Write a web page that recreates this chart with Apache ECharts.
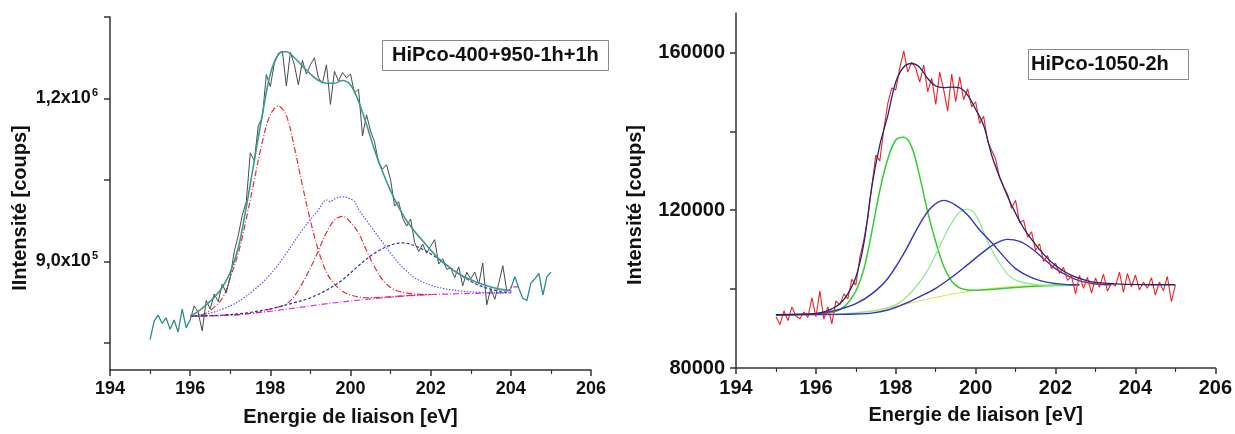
<!DOCTYPE html>
<html>
<head>
<meta charset="utf-8">
<script src="https://cdn.jsdelivr.net/npm/echarts@6/dist/echarts.min.js"></script>
<style>
html,body{margin:0;padding:0;background:#fff;}
#chart{width:1235px;height:434px;}
</style>
</head>
<body>
<div id="chart"></div>
<script>
// ---------- DATA ----------
const xTicks = [194, 196, 198, 200, 202, 204, 206];
const energyRaw = [195.0,195.1,195.2,195.3,195.4,195.5,195.6,195.7,195.8,195.9,
196.0,196.1,196.2,196.3,196.4,196.5,196.6,196.7,196.8,196.9,
197.0,197.1,197.2,197.3,197.4,197.5,197.6,197.7,197.8,197.9,
198.0,198.1,198.2,198.3,198.4,198.5,198.6,198.7,198.8,198.9,
199.0,199.1,199.2,199.3,199.4,199.5,199.6,199.7,199.8,199.9,
200.0,200.1,200.2,200.3,200.4,200.5,200.6,200.7,200.8,200.9,
201.0,201.1,201.2,201.3,201.4,201.5,201.6,201.7,201.8,201.9,
202.0,202.1,202.2,202.3,202.4,202.5,202.6,202.7,202.8,202.9,
203.0,203.1,203.2,203.3,203.4,203.5,203.6,203.7,203.8,203.9,
204.0,204.1,204.2,204.3,204.4,204.5,204.6,204.7,204.8,204.9,
205.0];

// Left panel: HiPco-400+950-1h+1h
const leftRaw = [756000,790000,801000,786000,796000,775000,792000,770000,812000,778000,
792000,818000,806000,772000,828000,812000,840000,826000,858000,842000,
872000,918000,948000,985000,1010000,1100000,1085000,1150000,1165000,1244000,
1222000,1265000,1283000,1287000,1223000,1285000,1262000,1225000,1270000,1245000,
1262000,1275000,1238000,1228000,1262000,1189000,1250000,1232000,1248000,1238000,
1245000,1210000,1217000,1131000,1170000,1140000,1120000,1082000,1070000,1078000,
1050000,1002000,1010000,980000,965000,978000,935000,918000,932000,915000,
928000,940000,895000,905000,885000,888000,870000,890000,855000,880000,
868000,880000,858000,897000,820000,850000,830000,860000,892000,845000,
850000,872000,850000,832000,828000,860000,868000,878000,838000,872000,
880000];

const leftFit = [[196.0,799000],[196.2,808000],[196.4,820000],[196.6,834000],[196.8,852000],[197.0,880000],
[197.2,925000],[197.4,1000000],[197.6,1085000],[197.8,1170000],[198.0,1245000],[198.2,1281000],
[198.4,1286000],[198.6,1275000],[198.8,1260000],[199.0,1245000],[199.2,1233000],[199.4,1228000],
[199.6,1228000],[199.8,1233000],[200.0,1225000],[200.2,1195000],[200.4,1152000],[200.6,1105000],
[200.8,1065000],[201.0,1030000],[201.2,1000000],[201.4,975000],[201.6,955000],[201.8,938000],
[202.0,921000],[202.2,905000],[202.4,893000],[202.6,882000],[202.8,873000],[203.0,866000],
[203.2,860000],[203.4,855000],[203.6,851000],[203.8,848000],[204.0,846000]];

const leftPeakA = [[196.0,799000],[196.4,805000],[196.8,832000],[197.0,870000],[197.2,915000],[197.4,978000],
[197.6,1050000],[197.8,1120000],[198.0,1170000],[198.2,1186000],[198.4,1168000],[198.6,1110000],
[198.8,1040000],[199.0,975000],[199.2,920000],[199.4,880000],[199.6,858000],[199.8,845000],
[200.0,838000],[200.4,833000],[200.8,834000],[201.2,836000],[201.6,838000],[202.0,839000]];

const leftPeakB = [[196.0,799000],[196.4,803000],[196.8,812000],[197.2,826000],[197.6,848000],[198.0,876000],
[198.4,915000],[198.8,958000],[199.2,995000],[199.4,1013000],[199.5,1010000],[199.6,1015000],
[199.8,1019000],[200.0,1015000],[200.1,1010000],[200.2,996000],[200.4,975000],[200.6,955000],
[200.8,935000],[201.0,915000],[201.2,897000],[201.4,882000],[201.6,870000],[201.8,862000],
[202.0,856000],[202.4,849000],[202.8,845000],[203.2,843000],[203.6,842000],[203.9,842000]];

const leftPeakC = [[196.0,799000],[197.0,801000],[197.6,805000],[198.0,812000],[198.4,822000],[198.6,836000],
[198.8,860000],[199.0,888000],[199.2,920000],[199.4,953000],[199.6,976000],[199.8,983000],
[200.0,972000],[200.2,952000],[200.4,920000],[200.6,890000],[200.8,866000],[201.0,852000],
[201.2,845000],[201.6,840000],[202.0,839000]];

const leftPeakD = [[196.0,799000],[196.8,801000],[197.4,805000],[197.8,810000],[198.2,816000],[198.6,824000],
[199.0,833000],[199.4,847000],[199.8,866000],[200.2,892000],[200.6,915000],[201.0,930000],
[201.3,934000],[201.6,929000],[202.0,914000],[202.4,893000],[202.8,872000],[203.2,856000],
[203.6,847000],[203.9,843000]];

const leftBase = [[196.0,799000],[196.5,800000],[197.0,801000],[197.5,804000],[198.0,808000],[198.5,813000],
[199.0,818000],[199.5,823000],[200.0,827000],[200.5,831000],[201.0,834000],[201.5,837000],
[202.0,839000],[202.5,840000],[203.0,841000],[203.5,842000],[204.0,842000],[204.0,853000],[204.25,853000]];

const leftYTicks = [750000, 900000, 1050000, 1200000, 1350000];
const leftYLabelValues = [900000, 1200000];
const leftYLabelMant = ['9,0x10', '1,2x10'];
const leftYLabelExp = ['5', '6'];

// Right panel: HiPco-1050-2h
const rightRaw = [93000,91000,94500,92000,95500,93200,92500,94200,92800,97800,
93000,99500,92400,95500,91200,97000,96000,98800,97500,102500,
101000,108000,112500,118000,126000,134000,132500,140500,147000,151000,
150500,156000,160400,155000,157500,156000,152500,156800,150000,153500,
146800,155000,150500,145100,154500,147500,153800,148000,150800,146200,
147500,142000,143800,137500,135200,133000,128200,126000,124000,120500,
122500,116800,117500,113200,114500,109800,111500,107000,108500,105200,
106600,104000,105500,102200,103300,98800,103500,100200,103000,99000,
102800,100500,103800,99500,101500,100800,104300,99200,104000,100600,
103600,99800,101800,100200,102900,98500,101800,99600,103200,96800,
101000];

const rightFit = [[195.0,93500],[195.6,93600],[196.0,93800],[196.2,94200],[196.4,95000],[196.6,96300],
[196.8,98800],[197.0,103000],[197.2,111500],[197.4,126000],[197.6,136500],[197.8,144000],
[198.0,152500],[198.2,156300],[198.4,157200],[198.6,156200],[198.8,153400],[199.0,151500],
[199.2,151100],[199.4,151200],[199.6,151000],[199.8,149200],[200.0,145600],[200.2,141500],
[200.4,134000],[200.6,128400],[200.8,123500],[201.0,119200],[201.2,115500],[201.4,112600],
[201.6,110000],[201.8,107800],[202.0,106000],[202.2,104600],[202.4,103500],[202.6,102700],
[202.8,102100],[203.0,101700],[203.4,101400],[203.8,101200],[204.4,101100],[205.0,101100]];

const rightPeakA = [[195.0,93500],[196.0,93600],[196.4,94100],[196.6,94800],[196.8,96500],[197.0,99500],
[197.2,105000],[197.4,114500],[197.6,125000],[197.8,133000],[198.0,137800],[198.2,138500],
[198.4,136000],[198.6,128500],[198.8,119500],[199.0,112000],[199.2,105800],[199.4,102000],
[199.6,100300],[199.8,99800],[200.0,99700],[200.5,100000],[201.0,100400],[201.5,100700],
[202.0,100900],[202.5,101000]];

const rightPeakB = [[195.0,93500],[195.8,93700],[196.2,94000],[196.6,94900],[197.0,96300],[197.4,98800],
[197.8,102700],[198.2,109000],[198.6,116500],[198.9,120800],[199.2,122500],[199.5,121300],
[199.8,118800],[200.1,115000],[200.4,111800],[200.7,108300],[201.0,105200],[201.4,102900],
[201.8,101700],[202.2,101200],[202.6,101100]];

const rightPeakC = [[196.5,93700],[197.0,94000],[197.5,94600],[198.0,96000],[198.3,98300],[198.6,101800],[198.8,104800],[199.0,108800],
[199.2,113000],[199.4,116800],[199.6,119500],[199.8,120300],[200.0,118800],[200.2,114500],
[200.4,110000],[200.6,106500],[200.8,103800],[201.0,102300],[201.4,101300],[201.8,101000],
[202.4,101100]];

const rightPeakD = [[195.0,93500],[196.0,93550],[196.6,93600],[197.0,93700],[197.4,93900],[197.8,94700],[198.2,96200],[198.6,98100],[199.0,100200],
[199.4,103000],[199.8,106200],[200.2,109500],[200.5,111600],[200.8,112600],[201.1,112100],
[201.4,110300],[201.7,107700],[202.0,105200],[202.3,103400],[202.6,102100],[203.0,101300],
[203.4,101100]];

const rightBase = [[195.0,93500],[196.5,93600],[197.0,93800],[197.5,94500],[198.0,95600],[198.5,96800],
[199.0,97900],[199.5,98900],[200.0,99700],[200.5,100300],[201.0,100700],[201.5,100900],
[202.0,101000],[203.0,101100]];

const rightYTicks = [80000, 100000, 120000, 140000, 160000];
const rightYLabelValues = [80000, 120000, 160000];

const xTitle = 'Energie de liaison [eV]';
const leftYTitle = 'IIntensité [coups]';
const rightYTitle = 'Intensité [coups]';
const leftBoxText = 'HiPco-400+950-1h+1h';
const rightBoxText = 'HiPco-1050-2h';

// ---------- CHART ----------
const FONT = '"Liberation Sans", Arial, Helvetica, sans-serif';
const pairs = (xs, ys, a, b) => xs.slice(a, b).map((x, i) => [x, ys[a + i]]);

function xAxisCfg(gridIndex, labelSize) {
  return {
    type: 'value', gridIndex, min: 194, max: 206, interval: 2,
    name: xTitle, nameLocation: 'middle', nameGap: 37,
    nameTextStyle: {fontFamily: FONT, fontWeight: 'bold', fontSize: 20, color: '#111'},
    axisLine: {show: true, onZero: false, lineStyle: {color: '#333', width: 1.5}},
    axisTick: {show: true, length: 6, lineStyle: {color: '#333', width: 1.5}},
    minorTick: {show: true, splitNumber: 2, length: 4, lineStyle: {color: '#333', width: 1.2}},
    axisLabel: {fontFamily: FONT, fontWeight: 'bold', fontSize: labelSize, color: '#111', margin: 10,
      formatter: v => xTicks.indexOf(v) >= 0 ? String(v) : ''},
    splitLine: {show: false}
  };
}

function line(name, data, xi, color, width, type, smooth) {
  return {
    name, type: 'line', xAxisIndex: xi, yAxisIndex: xi, data,
    showSymbol: false, symbol: 'none', smooth: smooth ? 0.35 : false,
    lineStyle: {color, width, type: type || 'solid'},
    emphasis: {disabled: true}, z: 2
  };
}

const option = {
  animation: false,
  backgroundColor: '#fff',
  title: [
    {text: leftBoxText, left: 382, top: 40, padding: [4, 10, 5, 10], borderColor: '#8a8a8a', borderWidth: 1,
      textStyle: {fontFamily: FONT, fontWeight: 'bold', fontSize: 20, lineHeight: 22, color: '#111'}},
    {text: rightBoxText, left: 1028, top: 49, padding: [4, 20, 5, 3], borderColor: '#8a8a8a', borderWidth: 1,
      textStyle: {fontFamily: FONT, fontWeight: 'bold', fontSize: 20, lineHeight: 22, color: '#111'}}
  ],
  grid: [
    {left: 110, top: 17, width: 481, height: 353},
    {left: 736, top: 13, width: 481, height: 355}
  ],
  xAxis: [xAxisCfg(0, 18), xAxisCfg(1, 20)],
  yAxis: [
    {type: 'value', gridIndex: 0, min: 700000, max: 1350000, interval: 50000,
      axisLine: {show: true, lineStyle: {color: '#333', width: 1.5}},
      axisTick: {show: true, length: 6, customValues: leftYTicks, lineStyle: {color: '#333', width: 1.5}},
      axisLabel: {show: true, customValues: leftYLabelValues, margin: 12,
        formatter: v => {
          const i = leftYLabelValues.indexOf(v);
          return i < 0 ? '' : '{m|' + leftYLabelMant[i] + '}{s|' + leftYLabelExp[i] + '}';
        },
        rich: {
          m: {fontFamily: FONT, fontWeight: 'bold', fontSize: 18, color: '#111'},
          s: {fontFamily: FONT, fontWeight: 'bold', fontSize: 11, color: '#111', padding: [0, 0, 11, 1]}
        }},
      splitLine: {show: false}},
    {type: 'value', gridIndex: 1, min: 80000, max: 170000, interval: 20000,
      axisLine: {show: true, lineStyle: {color: '#333', width: 1.5}},
      axisTick: {show: true, length: 6, customValues: rightYTicks, lineStyle: {color: '#333', width: 1.5}},
      axisLabel: {show: true, customValues: rightYLabelValues, margin: 11,
        fontFamily: FONT, fontWeight: 'bold', fontSize: 20, color: '#111',
        formatter: v => rightYLabelValues.indexOf(v) >= 0 ? String(v) : ''},
      splitLine: {show: false}}
  ],
  graphic: [
    {type: 'text', x: 20, y: 208, rotation: Math.PI / 2,
      style: {text: leftYTitle, font: 'bold 20px ' + FONT, fill: '#111', textAlign: 'center', textVerticalAlign: 'middle'}},
    {type: 'text', x: 635, y: 205, rotation: Math.PI / 2,
      style: {text: rightYTitle, font: 'bold 20px ' + FONT, fill: '#111', textAlign: 'center', textVerticalAlign: 'middle'}}
  ],
  series: [
    // left panel
    line('baseline', leftBase, 0, '#e030e0', 1.2, [6, 2, 1, 2], false),
    line('peak 198.2', leftPeakA, 0, '#e0303a', 1.2, [6, 2, 1, 2], true),
    line('peak 199.8 (fit)', leftPeakC, 0, '#e0303a', 1.2, [6, 2, 1, 2], true),
    line('peak sum', leftPeakB, 0, '#5a5af0', 1.2, [1.5, 1.5], true),
    line('peak 201.3', leftPeakD, 0, '#2830c0', 1.2, [3, 2], true),
    line('raw a', pairs(energyRaw, leftRaw, 0, 11), 0, '#2e8c8c', 1.3, 'solid', false),
    line('raw b', pairs(energyRaw, leftRaw, 10, 91), 0, '#4a4a4a', 1, 'solid', false),
    line('raw c', pairs(energyRaw, leftRaw, 90, 101), 0, '#2e8c8c', 1.3, 'solid', false),
    line('envelope', leftFit, 0, '#3a9a90', 1.6, 'solid', true),
    // right panel
    line('baseline r', rightBase, 1, '#e8e040', 1, 'solid', true),
    line('peak 198.2 r', rightPeakA, 1, '#33cc33', 1.5, 'solid', true),
    line('peak 199.8 r', rightPeakC, 1, '#90ea90', 1.3, 'solid', true),
    line('peak 199.2 r', rightPeakB, 1, '#3434c0', 1.4, 'solid', true),
    line('peak 200.8 r', rightPeakD, 1, '#3434c0', 1.4, 'solid', true),
    line('raw r', pairs(energyRaw, rightRaw, 0, 101), 1, '#ee2222', 1.1, 'solid', false),
    line('envelope r', rightFit, 1, '#26266e', 1.3, 'solid', true)
  ]
};

const chart = echarts.init(document.getElementById('chart'), null, {renderer: 'canvas'});
chart.setOption(option);
</script>
</body>
</html>
